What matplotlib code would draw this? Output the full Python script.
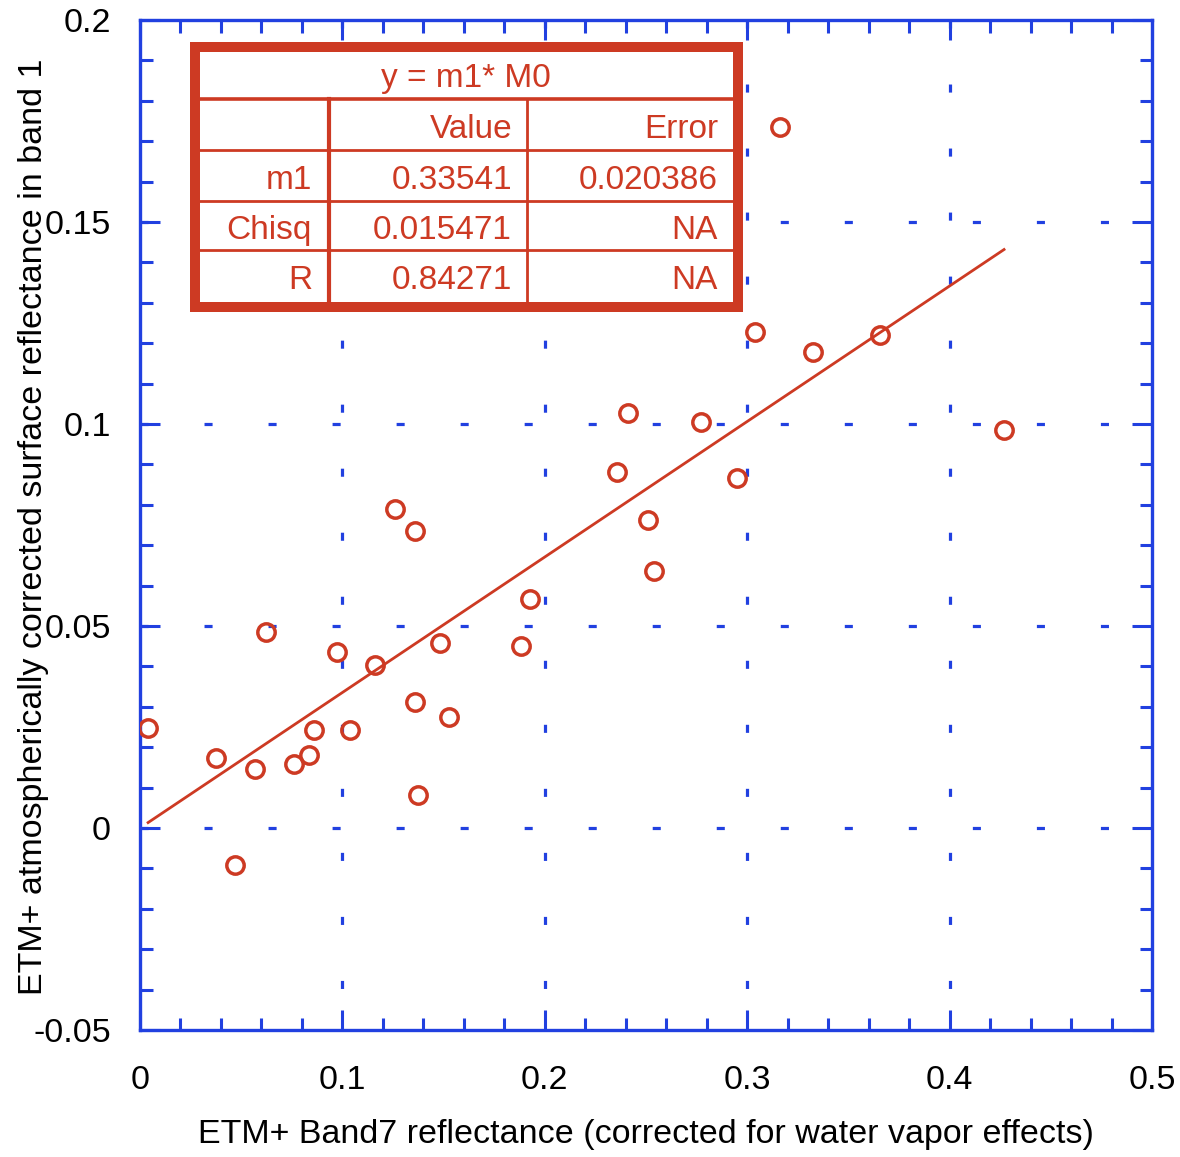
import matplotlib
matplotlib.use("Agg")
import matplotlib.pyplot as plt
from matplotlib.patches import Rectangle
from matplotlib.ticker import MultipleLocator, FixedLocator, FixedFormatter

# Band 7 reflectance vs. band 1 surface reflectance
band7 = [0.004, 0.0375, 0.047, 0.057, 0.0623, 0.076, 0.0835, 0.086, 0.0973, 0.1038,
         0.116, 0.126, 0.1359, 0.1359, 0.1374, 0.148, 0.1527, 0.188, 0.1927, 0.2357,
         0.241, 0.251, 0.254, 0.2772, 0.295, 0.3039, 0.3162, 0.3325, 0.3656, 0.4269]
band1 = [0.0248, 0.0173, -0.0092, 0.0146, 0.0485, 0.0158, 0.0181, 0.0243, 0.0436, 0.0243,
         0.0403, 0.079, 0.0735, 0.0312, 0.0082, 0.0458, 0.0275, 0.045, 0.0567, 0.0881,
         0.1027, 0.0762, 0.0636, 0.1005, 0.0866, 0.1228, 0.1735, 0.1178, 0.122, 0.0985]

# Fit results: y = m1 * x
m1 = 0.33541
fit_title = "y = m1* M0"
fit_header = ["", "Value", "Error"]
fit_rows = [["m1", "0.33541", "0.020386"],
            ["Chisq", "0.015471", "NA"],
            ["R", "0.84271", "NA"]]

xticks = [0, 0.1, 0.2, 0.3, 0.4, 0.5]
xticklabels = ["0", "0.1", "0.2", "0.3", "0.4", "0.5"]
yticks = [-0.05, 0, 0.05, 0.1, 0.15, 0.2]
yticklabels = ["-0.05", "0", "0.05", "0.1", "0.15", "0.2"]

BLUE = "#2140e0"
RED = "#cd3a23"

plt.rcParams["font.family"] = ["Liberation Sans", "DejaVu Sans"]
plt.rcParams["axes.unicode_minus"] = False
plt.rcParams["lines.scale_dashes"] = False

W, H = 1180, 1157
fig = plt.figure(figsize=(W / 100, H / 100), dpi=100)
ax = fig.add_axes([140 / W, 1 - 1030 / H, 1012 / W, 1010 / H])

ax.set_xlim(0, 0.5)
ax.set_ylim(-0.05, 0.2)

for s in ax.spines.values():
    s.set_color(BLUE)
    s.set_linewidth(2.4)

ax.xaxis.set_major_locator(FixedLocator(xticks))
ax.xaxis.set_major_formatter(FixedFormatter(xticklabels))
ax.yaxis.set_major_locator(FixedLocator(yticks))
ax.yaxis.set_major_formatter(FixedFormatter(yticklabels))
ax.xaxis.set_minor_locator(MultipleLocator(0.02))
ax.yaxis.set_minor_locator(MultipleLocator(0.01))
ax.tick_params(which="both", direction="in", top=True, right=True, color=BLUE, width=2.2)
ax.tick_params(which="major", length=14.5, labelsize=24.5)
ax.tick_params(which="minor", length=9)
ax.tick_params(axis="x", which="major", pad=25)
ax.tick_params(axis="y", which="major", pad=21)

# Sparse dashed grid
dash = (0, (5.8, 40.3))
for gx in xticks[1:-1]:
    ax.axvline(gx, ymin=1, ymax=0, color=BLUE, lw=2.3, ls=dash, zorder=1)
for gy in yticks[1:-1]:
    ax.axhline(gy, xmin=0, xmax=1, color=BLUE, lw=2.3, ls=dash, zorder=1)

# Fitted line through the origin
x_lo, x_hi = min(band7), max(band7)
ax.plot([x_lo, x_hi], [m1 * x_lo, m1 * x_hi], color=RED, lw=2.0, zorder=3)

ax.plot(band7, band1, ls="none", marker="o", ms=12.5, mfc="none", mec=RED, mew=2.5, zorder=4)

ax.set_xlabel("ETM+ Band7 reflectance (corrected for water vapor effects)", fontsize=24.5, va="center")
ax.xaxis.set_label_coords(0.5, -0.103)
ax.set_ylabel("ETM+ atmospherically corrected surface reflectance in band 1", fontsize=24.5, va="center")
ax.yaxis.set_label_coords(-0.1057, 0.498)

# Fit results box, laid out in pixel units on an overlay
ov = fig.add_axes([0, 0, 1, 1], zorder=5)
ov.set_xlim(0, W)
ov.set_ylim(H, 0)
ov.axis("off")

L, R_, T, B = 195, 737.5, 47, 307
ov.add_patch(Rectangle((L, T), R_ - L, B - T, facecolor="white", edgecolor=RED, lw=7.2))
ov.plot([L, R_], [99, 99], color=RED, lw=2.6)
for yy in [150, 200.5, 249.5]:
    ov.plot([L, R_], [yy, yy], color=RED, lw=2.0)
ov.plot([328.5, 328.5], [99, B], color=RED, lw=3.0)
ov.plot([527, 527], [99, B], color=RED, lw=2.0)

fs = 24
ov.text(466, 87, fit_title, color=RED, fontsize=fs, ha="center", va="baseline")
col_right = [312, 512, 718]
ov.text(col_right[1], 138, fit_header[1], color=RED, fontsize=fs, ha="right", va="baseline")
ov.text(col_right[2], 138, fit_header[2], color=RED, fontsize=fs, ha="right", va="baseline")
for row, base in zip(fit_rows, [189, 239, 289]):
    for txt, xr in zip(row, col_right):
        ov.text(xr, base, txt, color=RED, fontsize=fs, ha="right", va="baseline")

fig.savefig("out.png", dpi=100)
